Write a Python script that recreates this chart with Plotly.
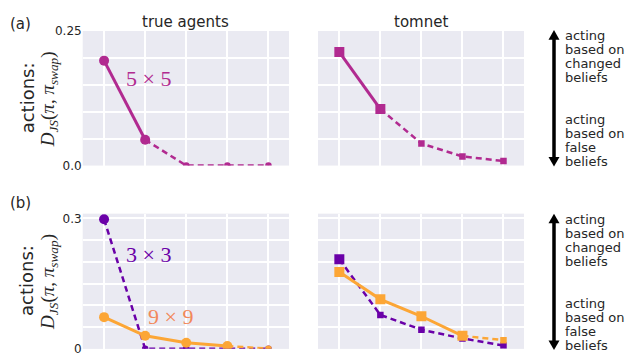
import plotly.graph_objects as go

# Steps along the horizontal axis (unlabelled)
steps = [0, 1, 2, 3, 4]

# (a) 5x5 grid: JS divergence between original and swapped policies
true_5x5 = [0.195, 0.048, 0.0, 0.0, 0.0]
tomnet_5x5 = [0.211, 0.105, 0.041, 0.017, 0.0085]

# (b) 3x3 and 9x9 grids
true_3x3 = [0.298, 0.0, 0.0, 0.0, 0.0]
true_9x9 = [0.073, 0.030, 0.014, 0.0066, 0.0005]
tomnet_3x3 = [0.206, 0.078, 0.044, 0.024, 0.0075]
tomnet_9x9 = [0.177, 0.114, 0.075, 0.030, 0.020]

# index where the solid segment ends and the dashed one begins
solid_end_5x5 = 1
solid_end_3x3 = 0
solid_end_9x9 = 3

col_titles = ["true agents", "tomnet"]
panel_tags = ["(a)", "(b)"]
size_tags = ["5 × 5", "3 × 3", "9 × 9"]
arrow_up_text = ["acting", "based on", "changed", "beliefs"]
arrow_down_text = ["acting", "based on", "false", "beliefs"]

# y tick labels and grid levels
ytick_top = [0, 0.25]
ytext_top = ["0.0", "0.25"]
ytick_bot = [0, 0.3]
ytext_bot = ["0", "0.3"]
grid_top = [0, 0.05, 0.10, 0.15, 0.20, 0.25]
grid_bot = [0, 0.05, 0.10, 0.15, 0.20, 0.25, 0.30]

MAGENTA = "#b12a90"
PURPLE = "#6a00a8"
ORANGE = "#fca636"
ORANGE_TXT = "#f2885a"
BG = "#eaeaf2"
TXT = "#262626"

W, H = 625, 360


def px(x):
    return x / W


def py(y):
    return 1 - y / H


fig = go.Figure()


def add_series(xa, ya, values, solid_end, color, symbol, big, small):
    sizes = [big if i <= solid_end else small for i in range(len(values))]
    if solid_end > 0:
        fig.add_trace(go.Scatter(
            x=steps[:solid_end + 1], y=values[:solid_end + 1], mode="lines",
            line=dict(color=color, width=3), xaxis=xa, yaxis=ya,
            showlegend=False, hoverinfo="skip"))
    fig.add_trace(go.Scatter(
        x=steps[solid_end:], y=values[solid_end:], mode="lines",
        line=dict(color=color, width=2.5, dash="6px,4px"), xaxis=xa, yaxis=ya,
        showlegend=False, hoverinfo="skip"))
    fig.add_trace(go.Scatter(
        x=steps, y=values, mode="markers",
        marker=dict(color=color, symbol=symbol, size=sizes, opacity=1,
                    line=dict(width=0)),
        xaxis=xa, yaxis=ya, showlegend=False))


# top row
add_series("x", "y", true_5x5, solid_end_5x5, MAGENTA, "circle", 10, 6.5)
add_series("x2", "y2", tomnet_5x5, solid_end_5x5, MAGENTA, "square", 10, 6.5)
# bottom row
add_series("x3", "y3", true_3x3, solid_end_3x3, PURPLE, "circle", 10, 6.5)
add_series("x3", "y3", true_9x9, solid_end_9x9, ORANGE, "circle", 10, 6.5)
add_series("x4", "y4", tomnet_3x3, solid_end_3x3, PURPLE, "square", 10, 6.5)
add_series("x4", "y4", tomnet_9x9, solid_end_9x9, ORANGE, "square", 10, 6.5)

left_dom = [px(82.7), px(289)]
right_dom = [px(318), px(524)]
top_dom = [py(165), py(25)]
bot_dom = [py(355.7), py(215)]

xcommon = dict(range=[-0.52, 4.5], tickvals=steps, showticklabels=False,
               showgrid=True, gridcolor="white", gridwidth=1.5,
               zeroline=False, showline=False, ticks="")
ycommon = dict(showgrid=True, gridcolor="white", gridwidth=1.5,
               zeroline=False, showline=False, ticks="",
               tickfont=dict(family="DejaVu Sans", size=12, color=TXT))


def minor_grid(levels):
    return dict(tickvals=levels, showgrid=True, gridcolor="white",
                gridwidth=1.5, ticks="")


fig.update_layout(
    width=W, height=H, margin=dict(l=0, r=0, t=0, b=0),
    paper_bgcolor="white", plot_bgcolor=BG,
    xaxis=dict(domain=left_dom, anchor="y", **xcommon),
    xaxis2=dict(domain=right_dom, anchor="y2", **xcommon),
    xaxis3=dict(domain=left_dom, anchor="y3", **xcommon),
    xaxis4=dict(domain=right_dom, anchor="y4", **xcommon),
    yaxis=dict(domain=top_dom, anchor="x", range=[0, 0.25], tickvals=ytick_top,
               ticktext=ytext_top, minor=minor_grid(grid_top), **ycommon),
    yaxis2=dict(domain=top_dom, anchor="x2", range=[0, 0.25], tickvals=grid_top,
                showticklabels=False, **ycommon),
    yaxis3=dict(domain=bot_dom, anchor="x3", range=[0, 0.311], tickvals=ytick_bot,
                ticktext=ytext_bot, minor=minor_grid(grid_bot), **ycommon),
    yaxis4=dict(domain=bot_dom, anchor="x4", range=[0, 0.311], tickvals=grid_bot,
                showticklabels=False, **ycommon),
    font=dict(family="DejaVu Sans", color=TXT),
)

ann = []
# column titles
ann.append(dict(x=px(186), y=py(16), text=col_titles[0], font=dict(size=15)))
ann.append(dict(x=px(421), y=py(16), text=col_titles[1], font=dict(size=15)))
# panel tags
ann.append(dict(x=px(20), y=py(18), text=panel_tags[0], font=dict(size=15)))
ann.append(dict(x=px(20), y=py(204), text=panel_tags[1], font=dict(size=15)))

# y-axis titles
math_label = "<i>D</i><sub><i>JS</i></sub>(<i>π</i>, <i>π</i><sub><i>swap</i></sub>)"
for cy in (95, 285):
    ann.append(dict(x=px(27), y=py(cy), text="actions:", textangle=-90,
                    font=dict(size=18)))
    ann.append(dict(x=px(49), y=py(cy + 1), text=math_label, textangle=-90,
                    font=dict(family="Liberation Serif", size=19)))

# grid size labels
ann.append(dict(x=px(148), y=py(74), text=size_tags[0],
                font=dict(family="Liberation Serif", size=22, color=MAGENTA)))
ann.append(dict(x=px(148), y=py(258), text=size_tags[1],
                font=dict(family="Liberation Serif", size=22, color=PURPLE)))
ann.append(dict(x=px(170), y=py(322), text=size_tags[2],
                font=dict(family="Liberation Serif", size=22, color=ORANGE_TXT)))

# explanatory side text
for off in (0, 191.5):
    for i, line in enumerate(arrow_up_text):
        ann.append(dict(x=px(563), y=py(30 + off + 14.5 * i), text=line,
                        xanchor="left", font=dict(size=13)))
    for i, line in enumerate(arrow_down_text):
        ann.append(dict(x=px(563), y=py(117.5 + off + 14.5 * i), text=line,
                        xanchor="left", font=dict(size=13)))

for a in ann:
    a.setdefault("xref", "paper")
    a.setdefault("yref", "paper")
    a.setdefault("showarrow", False)
    a.setdefault("xanchor", "center")
    a.setdefault("yanchor", "middle")

fig.update_layout(annotations=ann)

# double-headed arrows beside each row: shaft plus two triangular heads
AX = 554
HEAD_LEN, HEAD_HALF = 10, 5.5
shapes = []
for top, bottom in ((24, 166), (215, 357)):
    shapes.append(dict(type="line", xref="paper", yref="paper",
                       x0=px(AX), x1=px(AX), y0=py(top + HEAD_LEN - 1),
                       y1=py(bottom - HEAD_LEN + 1),
                       line=dict(color="black", width=3.5)))
    up = (f"M {px(AX)} {py(top)} L {px(AX - HEAD_HALF)} {py(top + HEAD_LEN)} "
          f"L {px(AX + HEAD_HALF)} {py(top + HEAD_LEN)} Z")
    down = (f"M {px(AX)} {py(bottom)} L {px(AX - HEAD_HALF)} {py(bottom - HEAD_LEN)} "
            f"L {px(AX + HEAD_HALF)} {py(bottom - HEAD_LEN)} Z")
    for path in (up, down):
        shapes.append(dict(type="path", xref="paper", yref="paper", path=path,
                           fillcolor="black", line=dict(width=0)))
fig.update_layout(shapes=shapes)

fig.write_html("out.html")
